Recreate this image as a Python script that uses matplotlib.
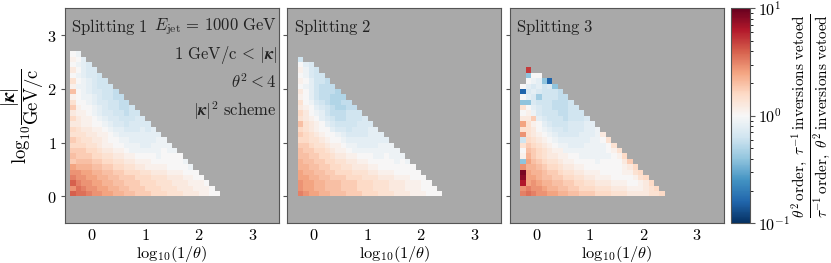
import numpy as np
import matplotlib
matplotlib.use("Agg")
import matplotlib.pyplot as plt
from matplotlib.colors import LogNorm

plt.rcParams["mathtext.fontset"] = "cm"
plt.rcParams["font.family"] = "serif"
plt.rcParams["font.serif"] = ["DejaVu Serif"]

# each cell is one char = log10(ratio) in steps of 0.05
# digits / upper case -> 0, 0.05, 0.10 ...   lower case -> -0.05, -0.10 ...
# space = empty bin (grey background shows through)
POS_CODES = "0123456789ABCDEFGHIJ"
NEG_CODES = "abcdefghijklmnop"

BIN = 0.1
x_start = [-0.4, -0.3, -0.3]  # left edge of first log10(1/theta) bin per panel
titles = ["Splitting 1", "Splitting 2", "Splitting 3"]

# rows go from the top kappa bin down to the [0, 0.1] bin
split1_rows = [
    "0a",
    "10b",
    "0abc",
    "20bcc",
    "0abccd",
    "30abcdd",
    "1aabcddd",
    "60abccdde",
    "10aabcddee",
    "300abccddee",
    "5100abcddeed",
    "2110abccddedd",
    "42110abccdddcc",
    "221100abccdcccc",
    "4322110abbcccbcb",
    "33322110abbbbbbbb",
    "543322100aabbbbbaa",
    "4443321100aaabbaaaa",
    "55544322110aaaaaa0aa",
    "6555443322110000a0000",
    "566655443322111000000a",
    "8777665544332211110000a",
    "998877665544433222111000",
    "A998877665554443332221100",
    "CA998877665554443332221110",
    "9BA998877665554443332221110",
    "CBBA998877665554443332221100",
]

split2_rows = [
    "d",
    "0bc",
    "1acd",
    "0acdd",
    "10bdde",
    "0abdeee",
    "20bdeeef",
    "10bdeefff",
    "30acdeffee",
    "210bcdeffee",
    "420abdeeeddd",
    "3210bcdeedddc",
    "63210bcddddccc",
    "432100bccdcccbb",
    "5432100abccccbbb",
    "44332100abbbbbbbb",
    "554332110aabbbbaaa",
    "6554432110aaaaaaaaa",
    "66554432211000aa0aaa",
    "766554433221100000a0a",
    "7766554433222110000000",
    "87766554443332211100000",
    "887766555444333222111000",
    "9887766655544433322211100",
    "98877666555444333222111000",
    "A98877666555444333222111000",
]

split3_rows = [
    " E",
    " h00",
    " 0abhp",
    "0bcbdch",
    "pcbcddde",
    "0bcgdddee",
    "hhcdddeeed",
    "30bcddeeedd",
    "01acdddeeddd",
    "225bcdddedddc",
    "8310bcdddcccbb",
    "3320abccdcccbba",
    "93210abccccbbba2",
    "d43210abbbbbbaa03",
    "3543210aabbbaaaa03",
    "06543211aaaaaaaa013",
    "17543221100aaaaaa014",
    "h8654332110000a000025",
    "9776544322110000000124",
    "J8776554332211100001134",
    "I88766554433221110000134",
    "G898776655443322211100124",
    "9A998776655444333222111234",
    "ABA998877665554443332222334",
]

panel_rows = [split1_rows, split2_rows, split3_rows]

info_lines = [
    r"$E_{\mathrm{jet}}\,=\,1000\ \mathrm{GeV}$",
    r"$1\ \mathrm{GeV/c}\,<\,|\boldsymbol{\kappa}|$",
    r"$\theta^2 < 4$",
    r"$|\boldsymbol{\kappa}|^2\ \mathrm{scheme}$",
]
tick_vals = [0, 1, 2, 3]


def decode(rows):
    ncols = max(len(r) for r in rows)
    grid = np.full((len(rows), ncols), np.nan)
    for i, row in enumerate(rows):
        for j, ch in enumerate(row):
            if ch in POS_CODES:
                grid[i, j] = 10 ** (0.05 * POS_CODES.index(ch))
            elif ch in NEG_CODES:
                grid[i, j] = 10 ** (-0.05 * (NEG_CODES.index(ch) + 1))
    return grid[::-1]


W, H = 831, 263
fig = plt.figure(figsize=(W / 100, H / 100), dpi=100)
norm = LogNorm(vmin=0.1, vmax=10)

ax_left = [65, 287.3, 509.5]
ax_bottom = (H - 223.3) / H
ax_h = 215 / H
ax_w = 214 / W

FS = 11.8      # tick labels and axis labels
TFS = 12.0     # texts inside the panels
mesh = None
for k in range(3):
    ax = fig.add_axes([ax_left[k] / W, ax_bottom, ax_w, ax_h])
    ax.set_facecolor("darkgray")
    grid = decode(panel_rows[k])
    nrows, ncols = grid.shape
    x_edges = x_start[k] + BIN * np.arange(ncols + 1)
    y_edges = BIN * np.arange(nrows + 1)
    mesh = ax.pcolormesh(x_edges, y_edges, np.ma.masked_invalid(grid),
                         cmap="RdBu_r", norm=norm)
    ax.set_xlim(-0.5, 3.5)
    ax.set_ylim(-0.5, 3.5)
    ax.set_xticks(tick_vals, labels=[f"${v}$" for v in tick_vals], fontsize=FS)
    ax.tick_params(axis="x", length=0, pad=3)
    ax.tick_params(axis="y", length=3, pad=3, color="#555555")
    if k == 0:
        ax.set_yticks(tick_vals, labels=[f"${v}$" for v in tick_vals], fontsize=FS)
        ax.set_ylabel(r"$\mathrm{log}_{10}\dfrac{|\boldsymbol{\kappa}|}{\mathrm{GeV/c}}$",
                      fontsize=13.5, labelpad=1)
    else:
        ax.set_yticks(tick_vals, labels=[])
    ax.set_xlabel(r"$\mathrm{log}_{10}(1/\theta)$", fontsize=11.8, labelpad=0)
    for sp in ax.spines.values():
        sp.set_color("#555555")
    ax.text(0.03, 0.915, r"$\mathrm{%s}$" % titles[k].replace(" ", r"\ "),
            transform=ax.transAxes, fontsize=TFS, va="center", ha="left",
            color="#222222")
    if k == 0:
        for n, line in enumerate(info_lines):
            ax.text(0.99, 0.915 - n * 0.131, line, transform=ax.transAxes,
                    fontsize=TFS, va="center", ha="right", color="#222222")

cax = fig.add_axes([731 / W, ax_bottom, 19 / W, ax_h])
cbar = fig.colorbar(mesh, cax=cax)
cbar.set_ticks([0.1, 1, 10], labels=[r"$10^{-1}$", r"$10^{0}$", r"$10^{1}$"])
cbar.ax.tick_params(labelsize=11.5, color="#555555", pad=2)
cbar.outline.set_edgecolor("#555555")
cbar.set_label(r"$\dfrac{\theta^2\,\mathrm{order},\ \tau^{-1}\,\mathrm{inversions\ vetoed}}"
               r"{\tau^{-1}\,\mathrm{order},\ \theta^2\,\mathrm{inversions\ vetoed}}$",
               fontsize=11.0, labelpad=0)

fig.savefig("out.png", dpi=100)
